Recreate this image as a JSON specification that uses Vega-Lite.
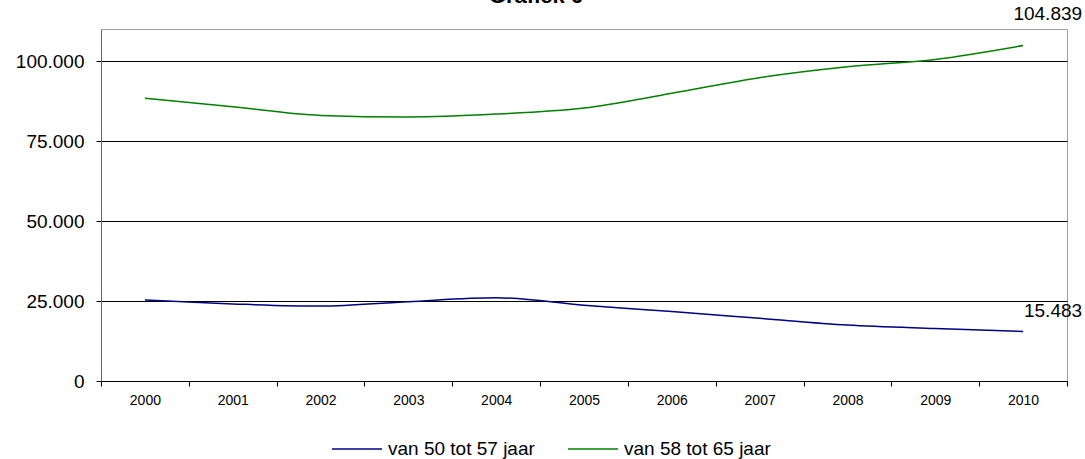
{
  "$schema": "https://vega.github.io/schema/vega-lite/v6.json",
  "width": 966,
  "height": 352,
  "autosize": {"type": "none"},
  "padding": {"left": 101, "top": 29, "right": 18, "bottom": 78},
  "background": "white",
  "title": {
    "text": "Grafiek 6",
    "fontSize": 22,
    "fontWeight": "bold",
    "font": "Liberation Sans",
    "anchor": "middle",
    "frame": "group",
    "dx": -48,
    "dy": 23,
    "offset": 3,
    "baseline": "alphabetic",
    "color": "black"
  },
  "data": {
    "values": [
      {"year": "2000", "group": "van 50 tot 57 jaar", "value": 25300},
      {"year": "2001", "group": "van 50 tot 57 jaar", "value": 24100},
      {"year": "2002", "group": "van 50 tot 57 jaar", "value": 23400},
      {"year": "2003", "group": "van 50 tot 57 jaar", "value": 24800},
      {"year": "2004", "group": "van 50 tot 57 jaar", "value": 26000},
      {"year": "2005", "group": "van 50 tot 57 jaar", "value": 23700},
      {"year": "2006", "group": "van 50 tot 57 jaar", "value": 21700},
      {"year": "2007", "group": "van 50 tot 57 jaar", "value": 19600},
      {"year": "2008", "group": "van 50 tot 57 jaar", "value": 17500},
      {"year": "2009", "group": "van 50 tot 57 jaar", "value": 16400},
      {"year": "2010", "group": "van 50 tot 57 jaar", "value": 15483},
      {"year": "2000", "group": "van 58 tot 65 jaar", "value": 88400},
      {"year": "2001", "group": "van 58 tot 65 jaar", "value": 85700},
      {"year": "2002", "group": "van 58 tot 65 jaar", "value": 83000},
      {"year": "2003", "group": "van 58 tot 65 jaar", "value": 82500},
      {"year": "2004", "group": "van 58 tot 65 jaar", "value": 83400},
      {"year": "2005", "group": "van 58 tot 65 jaar", "value": 85300},
      {"year": "2006", "group": "van 58 tot 65 jaar", "value": 89900},
      {"year": "2007", "group": "van 58 tot 65 jaar", "value": 94800},
      {"year": "2008", "group": "van 58 tot 65 jaar", "value": 98200},
      {"year": "2009", "group": "van 58 tot 65 jaar", "value": 100500},
      {"year": "2010", "group": "van 58 tot 65 jaar", "value": 104839}
    ]
  },
  "encoding": {
    "x": {
      "field": "year",
      "type": "ordinal",
      "bandPosition": 0.5,
      "scale": {"type": "band", "paddingInner": 0, "paddingOuter": 0},
      "axis": {
        "title": null,
        "labelAngle": 0,
        "labelFontSize": 14,
        "labelFont": "Liberation Sans",
        "labelColor": "black",
        "tickBand": "extent",
        "tickSize": 5,
        "tickColor": "black",
        "domainColor": "black",
        "labelPadding": 7,
        "grid": false
      }
    },
    "y": {
      "field": "value",
      "type": "quantitative",
      "scale": {"domain": [0, 110000]},
      "axis": {
        "title": null,
        "values": [0, 25000, 50000, 75000, 100000],
        "format": ",d",
        "grid": true,
        "gridColor": "black",
        "gridOpacity": 1,
        "labelFontSize": 19,
        "labelFont": "Liberation Sans",
        "labelColor": "black",
        "tickSize": 5,
        "tickColor": "black",
        "domainColor": "#666666",
        "labelPadding": 12
      }
    },
    "color": {
      "field": "group",
      "type": "nominal",
      "scale": {
        "domain": ["van 50 tot 57 jaar", "van 58 tot 65 jaar"],
        "range": ["#000080", "#008000"]
      },
      "legend": {
        "title": null,
        "orient": "none",
        "legendX": 230,
        "legendY": 394,
        "direction": "horizontal",
        "symbolType": "stroke",
        "symbolSize": 2500,
        "symbolStrokeWidth": 1.5,
        "labelFontSize": 19,
        "labelFont": "Liberation Sans",
        "labelColor": "black",
        "labelOffset": 5,
        "columnPadding": 30,
        "labelLimit": 400
      }
    }
  },
  "layer": [
    {"mark": {"type": "line", "strokeWidth": 1.5, "interpolate": "monotone"}},
    {
      "transform": [{"filter": "datum.year == '2010' && datum.group == 'van 58 tot 65 jaar'"}],
      "mark": {"type": "text", "align": "right", "baseline": "alphabetic", "dx": 59, "dy": -26, "fontSize": 19, "font": "Liberation Sans"},
      "encoding": {"text": {"field": "value", "type": "quantitative", "format": ",d"}, "color": {"value": "black"}}
    },
    {
      "transform": [{"filter": "datum.year == '2010' && datum.group == 'van 50 tot 57 jaar'"}],
      "mark": {"type": "text", "align": "right", "baseline": "alphabetic", "dx": 59, "dy": -14, "fontSize": 19, "font": "Liberation Sans"},
      "encoding": {"text": {"field": "value", "type": "quantitative", "format": ",d"}, "color": {"value": "black"}}
    }
  ],
  "config": {
    "view": {"stroke": "#a0a0a0"},
    "font": "Liberation Sans",
    "locale": {
      "number": {"decimal": ",", "thousands": ".", "grouping": [3], "currency": ["€", ""]}
    }
  }
}
